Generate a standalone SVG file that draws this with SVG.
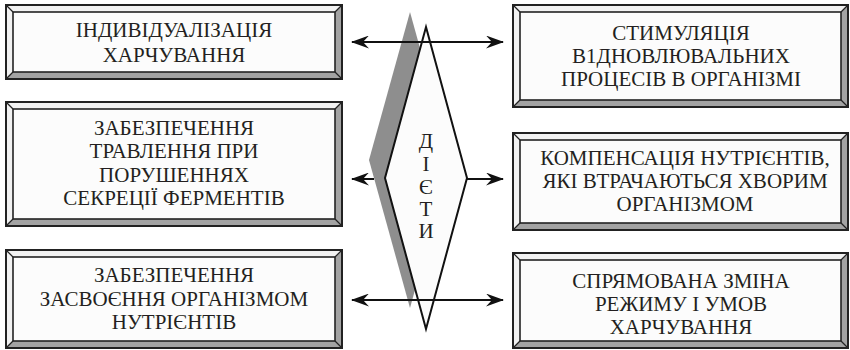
<svg xmlns="http://www.w3.org/2000/svg" width="850" height="350" viewBox="0 0 850 350">
<defs>
<style>
.bg{fill:#ffffff}
.face{fill:#fcfcfc;stroke:#222;stroke-width:1.6}
.outer{fill:none;stroke:#222;stroke-width:2}
.lt{fill:#f2f2f2}
.dk{fill:#a3a3a3}
.diag{stroke:#222;stroke-width:1.2}
.t{font-family:"Liberation Serif","Times New Roman",serif;font-size:21px;fill:#231f20;text-anchor:middle}
.conn{stroke:#111;stroke-width:2;fill:none}
.shadow{fill:#8e8e8e}
.dia{fill:#fcfcfc;stroke:#111;stroke-width:2;stroke-linejoin:miter}
</style>
<marker id="ah" viewBox="0 0 18 13" refX="17" refY="6.5" markerWidth="18" markerHeight="13" markerUnits="userSpaceOnUse" orient="auto-start-reverse">
<path d="M0,0 L18,6.5 L0,13 L6,6.5 Z" fill="#111"/>
</marker>
</defs>
<rect class="bg" x="0" y="0" width="850" height="350"/>

<g id="box1">
<polygon class="lt" points="6,5 342,5 335,12 13,12"/>
<polygon class="lt" points="6,5 13,12 13,72 6,79"/>
<polygon class="dk" points="342,5 342,79 335,72 335,12"/>
<polygon class="dk" points="6,79 13,72 335,72 342,79"/>
<line class="diag" x1="6" y1="5" x2="13" y2="12"/><line class="diag" x1="342" y1="5" x2="335" y2="12"/><line class="diag" x1="6" y1="79" x2="13" y2="72"/><line class="diag" x1="342" y1="79" x2="335" y2="72"/>
<rect class="face" x="13" y="12" width="322" height="60"/>
<rect class="outer" x="6" y="5" width="336" height="74"/>
<text class="t" x="174" y="37">ІНДИВІДУАЛІЗАЦІЯ</text>
<text class="t" x="174" y="62">ХАРЧУВАННЯ</text>
</g>

<g id="box2">
<polygon class="lt" points="6,102 342,102 335,109 13,109"/>
<polygon class="lt" points="6,102 13,109 13,219 6,226"/>
<polygon class="dk" points="342,102 342,226 335,219 335,109"/>
<polygon class="dk" points="6,226 13,219 335,219 342,226"/>
<line class="diag" x1="6" y1="102" x2="13" y2="109"/><line class="diag" x1="342" y1="102" x2="335" y2="109"/><line class="diag" x1="6" y1="226" x2="13" y2="219"/><line class="diag" x1="342" y1="226" x2="335" y2="219"/>
<rect class="face" x="13" y="109" width="322" height="110"/>
<rect class="outer" x="6" y="102" width="336" height="124"/>
<text class="t" x="174" y="135">ЗАБЕЗПЕЧЕННЯ</text>
<text class="t" x="174" y="158">ТРАВЛЕННЯ ПРИ</text>
<text class="t" x="174" y="182">ПОРУШЕННЯХ</text>
<text class="t" x="174" y="205">СЕКРЕЦІЇ ФЕРМЕНТІВ</text>
</g>

<g id="box3">
<polygon class="lt" points="6,250 342,250 335,257 13,257"/>
<polygon class="lt" points="6,250 13,257 13,341 6,348"/>
<polygon class="dk" points="342,250 342,348 335,341 335,257"/>
<polygon class="dk" points="6,348 13,341 335,341 342,348"/>
<line class="diag" x1="6" y1="250" x2="13" y2="257"/><line class="diag" x1="342" y1="250" x2="335" y2="257"/><line class="diag" x1="6" y1="348" x2="13" y2="341"/><line class="diag" x1="342" y1="348" x2="335" y2="341"/>
<rect class="face" x="13" y="257" width="322" height="84"/>
<rect class="outer" x="6" y="250" width="336" height="98"/>
<text class="t" x="174" y="282">ЗАБЕЗПЕЧЕННЯ</text>
<text class="t" x="174" y="306">ЗАСВОЄННЯ ОРГАНІЗМОМ</text>
<text class="t" x="174" y="329">НУТРІЄНТІВ</text>
</g>

<g id="box4">
<polygon class="lt" points="513,5 848,5 841,12 520,12"/>
<polygon class="lt" points="513,5 520,12 520,100 513,107"/>
<polygon class="dk" points="848,5 848,107 841,100 841,12"/>
<polygon class="dk" points="513,107 520,100 841,100 848,107"/>
<line class="diag" x1="513" y1="5" x2="520" y2="12"/><line class="diag" x1="848" y1="5" x2="841" y2="12"/><line class="diag" x1="513" y1="107" x2="520" y2="100"/><line class="diag" x1="848" y1="107" x2="841" y2="100"/>
<rect class="face" x="520" y="12" width="321" height="88"/>
<rect class="outer" x="513" y="5" width="335" height="102"/>
<text class="t" x="681" y="40">СТИМУЛЯЦІЯ</text>
<text class="t" x="681" y="63">В1ДНОВЛЮВАЛЬНИХ</text>
<text class="t" x="681" y="86">ПРОЦЕСІВ В ОРГАНІЗМІ</text>
</g>

<g id="box5">
<polygon class="lt" points="513,133 848,133 841,140 520,140"/>
<polygon class="lt" points="513,133 520,140 520,223 513,230"/>
<polygon class="dk" points="848,133 848,230 841,223 841,140"/>
<polygon class="dk" points="513,230 520,223 841,223 848,230"/>
<line class="diag" x1="513" y1="133" x2="520" y2="140"/><line class="diag" x1="848" y1="133" x2="841" y2="140"/><line class="diag" x1="513" y1="230" x2="520" y2="223"/><line class="diag" x1="848" y1="230" x2="841" y2="223"/>
<rect class="face" x="520" y="140" width="321" height="83"/>
<rect class="outer" x="513" y="133" width="335" height="97"/>
<text class="t" x="685" y="165">КОМПЕНСАЦІЯ НУТРІЄНТІВ,</text>
<text class="t" x="685" y="188">ЯКІ ВТРАЧАЮТЬСЯ ХВОРИМ</text>
<text class="t" x="685" y="211">ОРГАНІЗМОМ</text>
</g>

<g id="box6">
<polygon class="lt" points="513,253 848,253 841,260 520,260"/>
<polygon class="lt" points="513,253 520,260 520,341 513,348"/>
<polygon class="dk" points="848,253 848,348 841,341 841,260"/>
<polygon class="dk" points="513,348 520,341 841,341 848,348"/>
<line class="diag" x1="513" y1="253" x2="520" y2="260"/><line class="diag" x1="848" y1="253" x2="841" y2="260"/><line class="diag" x1="513" y1="348" x2="520" y2="341"/><line class="diag" x1="848" y1="348" x2="841" y2="341"/>
<rect class="face" x="520" y="260" width="321" height="81"/>
<rect class="outer" x="513" y="253" width="335" height="95"/>
<text class="t" x="681" y="288">СПРЯМОВАНА ЗМІНА</text>
<text class="t" x="681" y="311">РЕЖИМУ І УМОВ</text>
<text class="t" x="681" y="334">ХАРЧУВАННЯ</text>
</g>

<g id="diets">
<polygon class="shadow" points="410,12 451,160 410,308 369,160"/>
<polygon class="dia" points="426,27 467,178 426,329 385,178"/>
<text class="t" x="426" y="148">Д</text>
<text class="t" x="426" y="171">І</text>
<text class="t" x="426" y="194">Є</text>
<text class="t" x="426" y="216">Т</text>
<text class="t" x="426" y="238">И</text>
</g>

<g id="connectors">
<line class="conn" x1="352" y1="42" x2="503" y2="42" marker-start="url(#ah)" marker-end="url(#ah)"/>
<line class="conn" x1="374" y1="179" x2="352" y2="179" marker-end="url(#ah)"/>
<line class="conn" x1="467" y1="179" x2="503" y2="179" marker-end="url(#ah)"/>
<line class="conn" x1="352" y1="300" x2="503" y2="300" marker-start="url(#ah)" marker-end="url(#ah)"/>
</g>
</svg>
